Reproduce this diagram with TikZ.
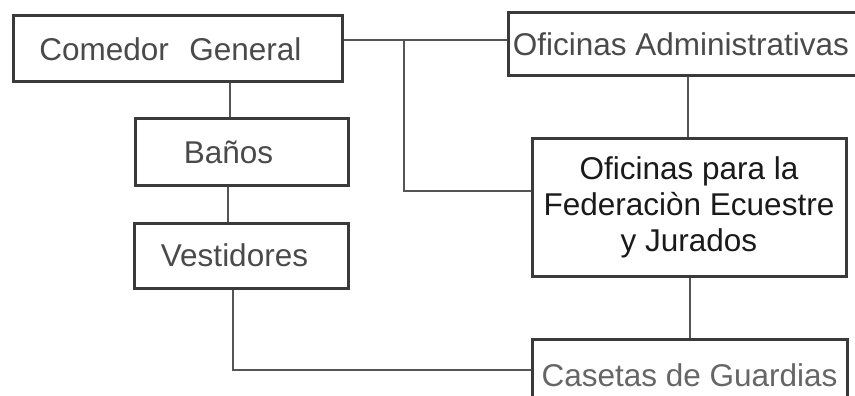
\documentclass[tikz,border=0pt]{standalone}
\usepackage{fontspec}
\setmainfont{Liberation Sans}
\definecolor{boxline}{HTML}{3A3A3A}
\definecolor{conn}{HTML}{555555}
\definecolor{txtgray}{HTML}{4A4A4A}
\definecolor{txtdark}{HTML}{1A1A1A}
\definecolor{txtlight}{HTML}{666666}
\tikzset{
  box/.style={draw=boxline, line width=3pt, fill=white, inner sep=0pt,
    font=\fontsize{31.5}{36}\selectfont, text=txtgray, align=center},
  link/.style={draw=conn, line width=1.5pt}
}
\begin{document}
\begin{tikzpicture}[x=1pt,y=-1pt]
\useasboundingbox (0,0) rectangle (855,396);
\fill[white] (0,0) rectangle (855,396);
\coordinate (j1) at (404,40);
\coordinate (j2) at (404,191);
\coordinate (j3) at (233,370);
\node[box, minimum width=329pt, minimum height=66pt] (com) at (177.5,49) {Comedor\hspace{0.65em}General\hspace*{14pt}};
\node[box, minimum width=213pt, minimum height=66pt] (ban) at (241.5,152) {Baños\hspace*{26pt}};
\node[box, minimum width=214pt, minimum height=65pt] (ves) at (241,255.5) {Vestidores\hspace*{13pt}};
\node[box, minimum width=352pt, minimum height=63pt] (adm) at (684,44.5) {Oficinas Administrativas\hspace*{6pt}};
\node[box, minimum width=314pt, minimum height=138pt, text=txtdark] (fed) at (689,207) {Oficinas para la\\Federaciòn Ecuestre\\y Jurados};
\node[box, minimum width=315pt, minimum height=72pt, text=txtlight] (cas) at (689.5,375) {Casetas de Guardias};
% connectors
\draw[link] ([xshift=52.5pt]com.south) -- ([xshift=-11.5pt]ban.north);
\draw[link] ([xshift=-13.5pt]ban.south) -- ([xshift=-13pt]ves.north);
\draw[link] ([xshift=-8pt]ves.south) -- (j3) -- (j3 -| cas.west);
\draw[link] (j1 -| com.east) -- (j1 -| adm.west);
\draw[link] (j1) -- (j2) -- (j2 -| fed.west);
\draw[link] ([xshift=4pt]adm.south) -- ([xshift=-1pt]fed.north);
\draw[link] ([xshift=1pt]fed.south) -- ([xshift=0.5pt]cas.north);
\end{tikzpicture}
\end{document}
